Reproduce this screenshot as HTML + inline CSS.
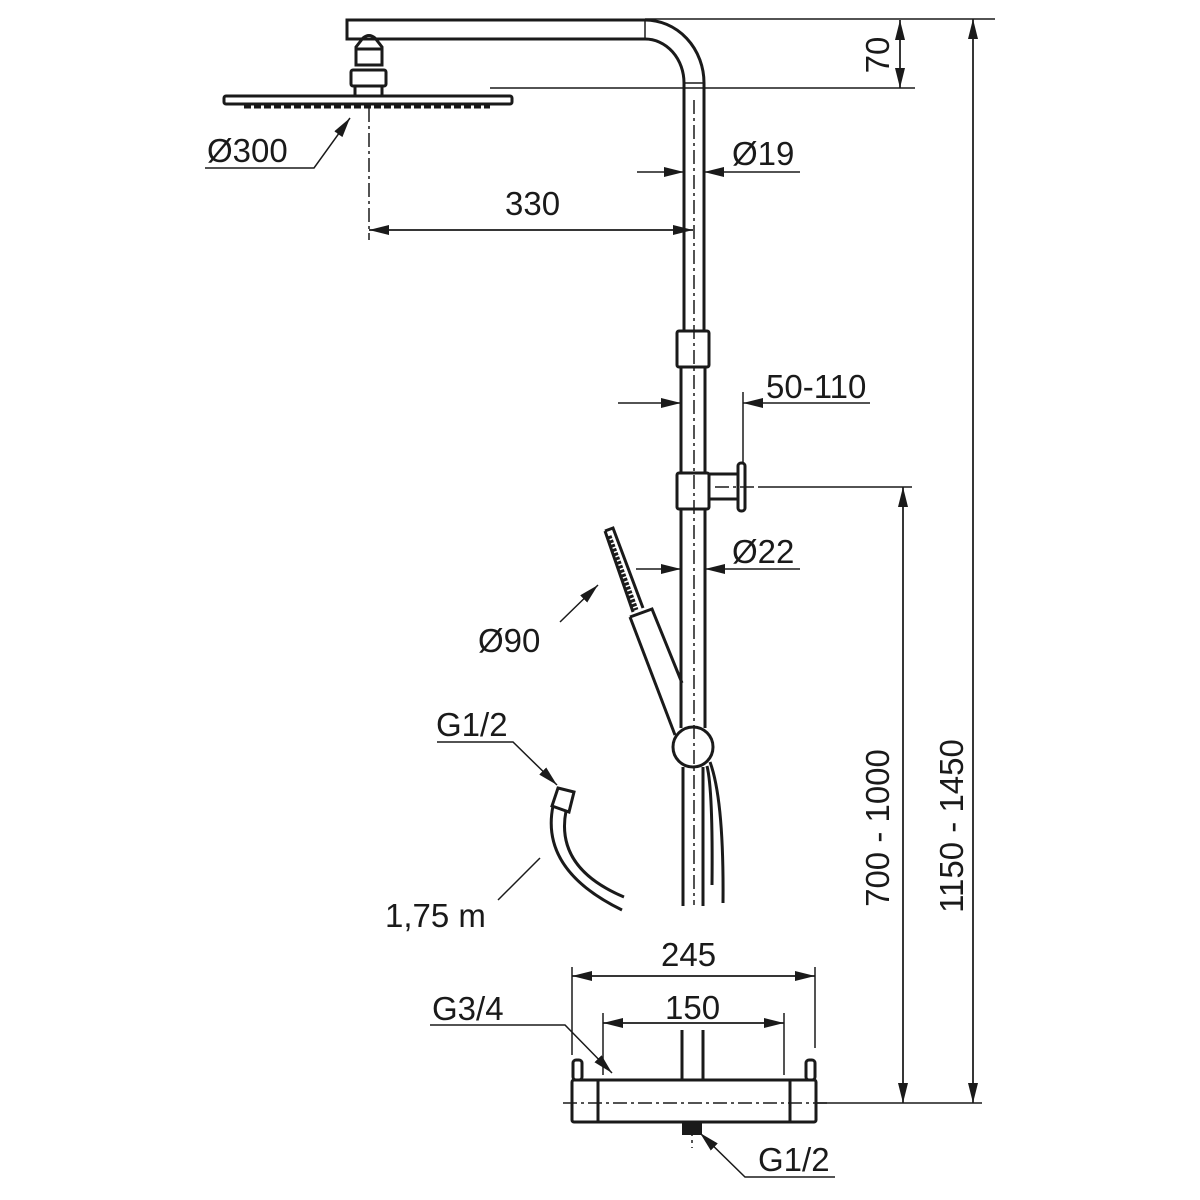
<!DOCTYPE html>
<html><head><meta charset="utf-8"><style>
html,body{margin:0;padding:0;background:#fff}
svg{display:block}
text{font-family:"Liberation Sans",Arial,sans-serif;font-size:33px;fill:#1a1a1a}
</style></head><body>
<svg width="1200" height="1200" viewBox="0 0 1200 1200" xmlns="http://www.w3.org/2000/svg">
<defs>
<marker id="a" viewBox="0 0 20 10" refX="20" refY="5" markerWidth="20" markerHeight="10" markerUnits="userSpaceOnUse" orient="auto">
<path d="M0,0 L20,5 L0,10 Z" fill="#1a1a1a"/></marker>
</defs>
<g fill="none" stroke="#1a1a1a">
<!-- arm and bend -->
<g stroke-width="3">
<path d="M645,20 L347,20 L347,39 L645,39"/>
<path d="M645,20 A59,63 0 0 1 704,83"/>
<path d="M645,39 A39,44 0 0 1 684,83"/>
<line x1="645" y1="20" x2="645" y2="39" stroke-width="1.5"/>
<line x1="684" y1="83" x2="704" y2="83" stroke-width="1.5"/>
<!-- upper pipe -->
<line x1="684" y1="83" x2="684" y2="332"/>
<line x1="704" y1="83" x2="704" y2="332"/>
<!-- clamp -->
<rect x="677" y="331" width="32" height="36" rx="2"/>
<!-- lower pipe -->
<line x1="681" y1="367" x2="681" y2="473"/>
<line x1="705" y1="367" x2="705" y2="473"/>
<rect x="677" y="473" width="32" height="36" rx="2"/>
<rect x="709" y="474" width="29" height="25"/>
<rect x="738" y="463" width="7" height="48" rx="3"/>
<line x1="681" y1="509" x2="681" y2="728"/>
<line x1="705" y1="509" x2="705" y2="728"/>
<circle cx="693" cy="747" r="20"/>
<line x1="683" y1="767" x2="683" y2="906"/>
<line x1="703" y1="767" x2="703" y2="906"/>
<path d="M707,766 Q713,790 712,885"/>
<path d="M710,762 Q724,800 723,903"/>
<!-- hand shower -->
<path d="M605,531 L613,528 L643,608"/>
<path d="M605,531 L633,612"/>
<path d="M630,617 L652,609 L682,683"/>
<path d="M630,617 L675,735"/>
<!-- overhead -->
<rect x="224" y="96" width="288" height="8" rx="2"/>
<rect x="351" y="70" width="35" height="16" rx="2"/>
<rect x="355" y="86" width="27" height="10"/>
<path d="M356,65 L356,47 L363,38 Q369,33 375,38 L382,47 L382,65 Z"/>
<line x1="356" y1="49" x2="382" y2="49"/>
<!-- mixer -->
<rect x="572" y="1080" width="244" height="42" rx="2"/>
<line x1="598" y1="1080" x2="598" y2="1122"/>
<line x1="790" y1="1080" x2="790" y2="1122"/>
<rect x="573" y="1060" width="9" height="20" rx="3"/>
<rect x="806" y="1060" width="9" height="20" rx="3"/>
<line x1="682" y1="1030" x2="682" y2="1080"/>
<line x1="703" y1="1030" x2="703" y2="1080"/>
<!-- hose connector -->
<path d="M558,788 L574,792 L569,812 L552,806 Z" transform="rotate(0)"/>
<path d="M553,806 Q540,870 622,910"/>
<path d="M566,811 Q555,868 624,897"/>
</g>
<!-- nozzles -->
<path d="M244,106 L490,106" stroke-width="5" stroke-dasharray="7,3"/>
<rect x="682" y="1122" width="20" height="13" fill="#1a1a1a" stroke="none"/>
<path d="M609,536 L636,610" stroke-width="5" stroke-dasharray="3,1.5"/>

<!-- centerlines -->
<g stroke-width="1.5" stroke-dasharray="14,4,3,4">
<line x1="369" y1="108" x2="369" y2="240"/>
<line x1="694" y1="100" x2="694" y2="905"/>
<line x1="563" y1="1103" x2="830" y2="1103"/>
<line x1="692" y1="1122" x2="692" y2="1148"/>
<line x1="715" y1="487" x2="760" y2="487"/>
</g>

<!-- dims -->
<g stroke-width="1.5">
<line x1="645" y1="19" x2="995" y2="19"/>
<line x1="490" y1="88" x2="915" y2="88"/>
<line x1="900" y1="88" x2="900" y2="20" marker-end="url(#a)"/>
<line x1="900" y1="20" x2="900" y2="88" marker-end="url(#a)"/>
<line x1="973" y1="1103" x2="973" y2="19" marker-end="url(#a)"/>
<line x1="973" y1="19" x2="973" y2="1103" marker-end="url(#a)"/>
<line x1="903" y1="1103" x2="903" y2="487" marker-end="url(#a)"/>
<line x1="903" y1="487" x2="903" y2="1103" marker-end="url(#a)"/>
<line x1="760" y1="487" x2="912" y2="487"/>
<line x1="816" y1="1103" x2="982" y2="1103"/>
<!-- 330 -->
<line x1="369" y1="230" x2="693" y2="230" marker-end="url(#a)"/>
<line x1="693" y1="230" x2="369" y2="230" marker-end="url(#a)"/>
<!-- Ø300 -->
<polyline points="205,168 314,168 350,118" marker-end="url(#a)"/>
<!-- Ø19 -->
<line x1="637" y1="172" x2="684" y2="172" marker-end="url(#a)"/>
<line x1="800" y1="172" x2="704" y2="172" marker-end="url(#a)"/>
<!-- 50-110 -->
<line x1="618" y1="403" x2="681" y2="403" marker-end="url(#a)"/>
<line x1="870" y1="403" x2="743" y2="403" marker-end="url(#a)"/>
<line x1="743" y1="392" x2="743" y2="463"/>
<!-- Ø22 -->
<line x1="636" y1="569" x2="681" y2="569" marker-end="url(#a)"/>
<line x1="800" y1="569" x2="705" y2="569" marker-end="url(#a)"/>
<!-- Ø90 -->
<line x1="560" y1="622" x2="598" y2="585" marker-end="url(#a)"/>
<!-- G1/2 hose -->
<polyline points="437,742 513,742 557,785" marker-end="url(#a)"/>
<line x1="498" y1="900" x2="540" y2="858"/>
<!-- 245 -->
<line x1="572" y1="967" x2="572" y2="1055"/>
<line x1="815" y1="967" x2="815" y2="1048"/>
<line x1="572" y1="976" x2="815" y2="976" marker-end="url(#a)"/>
<line x1="815" y1="976" x2="572" y2="976" marker-end="url(#a)"/>
<!-- 150 -->
<line x1="603" y1="1013" x2="603" y2="1075"/>
<line x1="784" y1="1013" x2="784" y2="1075"/>
<line x1="603" y1="1023" x2="784" y2="1023" marker-end="url(#a)"/>
<line x1="784" y1="1023" x2="603" y2="1023" marker-end="url(#a)"/>
<!-- G3/4 -->
<polyline points="430,1025 565,1025 612,1073" marker-end="url(#a)"/>
<!-- G1/2 bottom -->
<polyline points="835,1177 745,1177 700,1133" marker-end="url(#a)"/>
</g>
</g>
<text x="207" y="162">Ø300</text>
<text x="505" y="215">330</text>
<text x="732" y="165">Ø19</text>
<text x="766" y="398">50-110</text>
<text x="732" y="563">Ø22</text>
<text x="478" y="652">Ø90</text>
<text x="436" y="736">G1/2</text>
<text x="385" y="927">1,75 m</text>
<text x="661" y="966">245</text>
<text x="665" y="1019">150</text>
<text x="432" y="1020">G3/4</text>
<text x="758" y="1171">G1/2</text>
<text transform="translate(889,55) rotate(-90)" text-anchor="middle">70</text>
<text transform="translate(889,828) rotate(-90)" text-anchor="middle">700 - 1000</text>
<text transform="translate(963,826) rotate(-90)" text-anchor="middle">1150 - 1450</text>
</svg>
</body></html>
